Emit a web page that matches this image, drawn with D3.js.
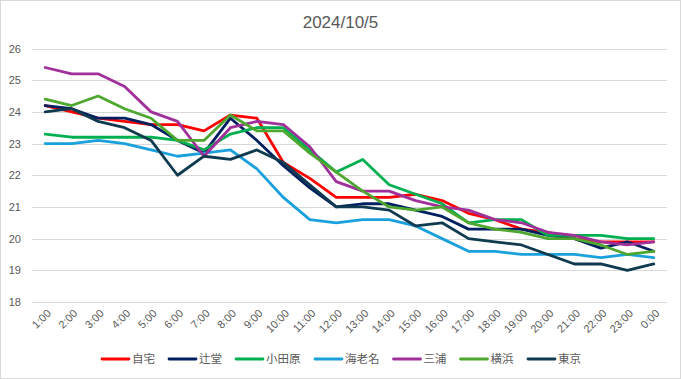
<!DOCTYPE html>
<html><head><meta charset="utf-8">
<script src="https://cdn.jsdelivr.net/npm/d3@7"></script>
<style>
html,body{margin:0;padding:0;background:#fff;}
text{font-family:"Liberation Sans","Noto Sans CJK JP",sans-serif;}
</style></head>
<body><svg id="chart" width="681" height="379"></svg>
<script>
const title = "2024/10/5";
const hours = ["1:00","2:00","3:00","4:00","5:00","6:00","7:00","8:00","9:00","10:00","11:00","12:00","13:00","14:00","15:00","16:00","17:00","18:00","19:00","20:00","21:00","22:00","23:00","0:00"];
const yTicks = [18,19,20,21,22,23,24,25,26];
const seriesNames = ["自宅","辻堂","小田原","海老名","三浦","横浜","東京"];
const seriesColors = ["#ff0000","#002060","#00b050","#1aa0dc","#a0309a","#4ea72e","#0f3a50"];
const jitaku   = [24.2,24.0,23.8,23.7,23.6,23.6,23.4,23.9,23.8,22.4,21.9,21.3,21.3,21.3,21.4,21.2,20.8,20.6,20.3,20.2,20.0,19.9,19.9,19.9];
const tsujido  = [24.2,24.1,23.8,23.8,23.6,23.1,22.7,23.8,23.1,22.3,21.6,21.0,21.1,21.1,20.9,20.7,20.3,20.3,20.3,20.1,20.0,19.7,19.9,19.6];
const odawara  = [23.3,23.2,23.2,23.2,23.2,23.1,22.8,23.3,23.5,23.5,22.8,22.1,22.5,21.7,21.4,21.1,20.5,20.6,20.6,20.1,20.1,20.1,20.0,20.0];
const ebina    = [23.0,23.0,23.1,23.0,22.8,22.6,22.7,22.8,22.2,21.3,20.6,20.5,20.6,20.6,20.4,20.0,19.6,19.6,19.5,19.5,19.5,19.4,19.5,19.4];
const miura    = [25.4,25.2,25.2,24.8,24.0,23.7,22.6,23.5,23.7,23.6,22.9,21.8,21.5,21.5,21.2,21.0,20.9,20.6,20.5,20.2,20.1,19.9,19.8,19.9];
const yokohama = [24.4,24.2,24.5,24.1,23.8,23.1,23.1,23.9,23.4,23.4,22.7,22.1,21.5,21.0,20.9,21.0,20.5,20.3,20.2,20.0,20.0,19.8,19.5,19.6];
const tokyo    = [24.0,24.1,23.7,23.5,23.1,22.0,22.6,22.5,22.8,22.4,21.7,21.0,21.0,20.9,20.4,20.5,20.0,19.9,19.8,19.5,19.2,19.2,19.0,19.2];
const seriesValues = [jitaku,tsujido,odawara,ebina,miura,yokohama,tokyo];

(function(){
const svg = d3.select("#chart");
const W = 681, H = 379;
const pLeft = 32, pRight = 667, pTop = 48.5, pBottom = 302;
const textColor = "#595959";

svg.append("rect").attr("x",0.5).attr("y",0.5).attr("width",W-1).attr("height",H-1)
  .attr("fill","#fff").attr("stroke","#d9d9d9");

const x = d3.scalePoint().domain(hours).range([pLeft,pRight]).padding(0.5);
const y = d3.scaleLinear().domain([18,26]).range([pBottom,pTop]);

svg.append("text").attr("x",340.5).attr("y",28).attr("text-anchor","middle")
  .attr("font-size",17).attr("fill",textColor).text(title);

svg.append("g").selectAll("line").data(yTicks).join("line")
  .attr("x1",pLeft).attr("x2",pRight)
  .attr("y1",d=>Math.round(y(d))+0.5).attr("y2",d=>Math.round(y(d))+0.5)
  .attr("stroke","#d9d9d9").attr("stroke-width",1);

const yAxis = d3.axisLeft(y).tickValues(yTicks).tickSize(0).tickPadding(0).tickFormat(d3.format("d"));
const yg = svg.append("g").attr("transform","translate(21,0)").call(yAxis);
yg.select(".domain").remove();
yg.selectAll("text").attr("font-size",11).attr("fill",textColor).attr("font-family",null);

const xAxis = d3.axisBottom(x).tickSize(0).tickPadding(0);
const xg = svg.append("g").attr("transform",`translate(0,${pBottom})`).call(xAxis);
xg.select(".domain").remove();
xg.selectAll("text").attr("font-size",11).attr("fill",textColor).attr("font-family",null)
  .attr("text-anchor","end").attr("dy",null).attr("y",0)
  .attr("transform","translate(6,12) rotate(-45)");

const line = d3.line().x((d,i)=>x(hours[i])).y(d=>y(d));
svg.append("g").selectAll("path").data(seriesValues).join("path")
  .attr("d",line).attr("fill","none")
  .attr("stroke",(d,i)=>seriesColors[i]).attr("stroke-width",2.8)
  .attr("stroke-linejoin","round").attr("stroke-linecap","round");

const lg = svg.append("g");
const ly = 359;
const items = lg.selectAll("g").data(seriesNames).join("g");
items.append("line").attr("x1",0).attr("x2",27).attr("y1",0).attr("y2",0)
  .attr("stroke",(d,i)=>seriesColors[i]).attr("stroke-width",2.8).attr("stroke-linecap","round");
items.append("text").attr("x",30).attr("y",4.3).attr("font-size",11.5).attr("fill",textColor).text(d=>d);
const widths = [];
items.each(function(){ widths.push(this.getBBox().width); });
const gap = 14;
const total = d3.sum(widths) + gap*(widths.length-1);
let cx = 341.5 - total/2;
items.attr("transform",(d,i)=>{ const t=`translate(${cx},${ly})`; cx += widths[i]+gap; return t; });
})();
</script></body></html>
